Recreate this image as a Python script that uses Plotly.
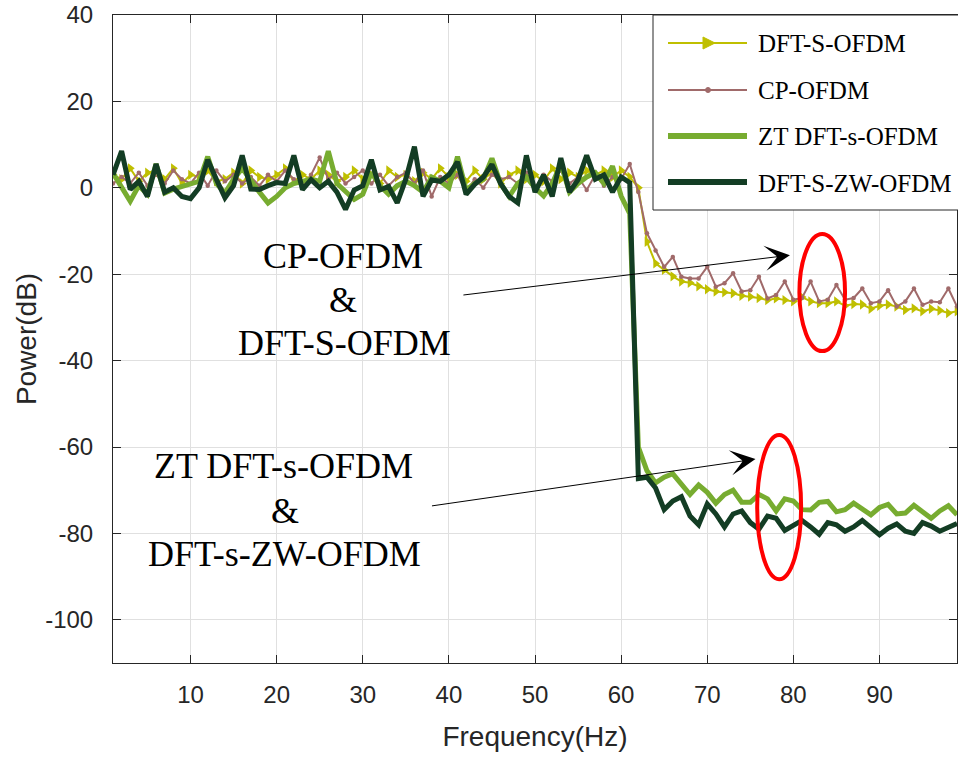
import plotly.graph_objects as go

# ---------------- data ----------------
freq = list(range(1, 100))

dft_s_ofdm = [
    3, 2, 4.5, 1.5, 3.5, 4, 2, 4.5, 1, 3,
    2.5, 4, 1.5, 2, 3.5, 1, 4, 2.5, 2, 3,
    4.5, 1.5, 3, 2, 4, 3, 1.5, 2.5, 4, 2,
    3, 1, 4, 2.5, 3, 1.5, 3.5, 2, 4.5, 2.5,
    3, 1.5, 4, 2, 3.5, 1, 3, 4, 2, 3,
    1.5, 4.5, 2, 3.5, 2.5, 4, 3, 4, 2.5, 4,
    2.5, 0, -12.5, -17.5, -19, -20.5, -21.7, -22, -22.8, -23.5,
    -24, -24.2, -24.4, -25, -25.2, -25.5, -26, -25.6, -26, -26.3,
    -25.3, -26.3, -26.7, -26.7, -26.3, -27.3, -26.9, -27, -28, -27.3,
    -27, -27.5, -28.3, -27.9, -28.6, -28, -28.4, -29, -28.6,
]

cp_ofdm = [
    1, 2.5, 1, 3.5, 0.5, 3, 1, 4, 2, 1,
    3.5, 0.5, 4, 1.5, 3, 1, 2.5, 0.5, 3, 1.5,
    4, 2, 0.5, 3, 7, 2, 3.5, 1, 2.5, 4,
    1, 3, 0.5, 2.5, 3.5, 1, 4, -2, 2.5, 1,
    3, -1, 2, 0, 3, 2, 2.5, 1, 3.5, 0,
    3, 1.5, 4, 1, 2.5, -0.5, 3, 0.5, 2.5, 2,
    5.5, -1, -10.5, -14.5, -18.3, -16, -20.6, -21, -21, -18.3,
    -22.9, -22.1, -19.8, -24, -23.7, -20.6, -25.6, -24.8, -21.7, -25.9,
    -25.5, -21.7, -26.3, -25.9, -22.5, -25.9, -25.5, -23.3, -26.7, -26.3,
    -23.7, -27.5, -26.3, -23.3, -27.1, -26.3, -26.5, -23.3, -27.5,
]

zt_dft_s_ofdm = [
    3.4, 0, -3.1, 0.5, -1.5, 5.5, -1.2, -0.3, 0.3, 0.8,
    1.5, 7.2, 1, -1.2, 2, 4.5, 1.5, -1, -3.5, -2,
    0, 1, 1.5, 2, 1.5, 8.5, 1, -1, -2.7, -1.5,
    3.5, 0.5, -1.5, 0.5, 1.5, 0.5, -1, 2.5, 1.5, 0,
    7.2, -0.5, 1, 2, 6.8, 1, -2, 1, 2.5, 0,
    -1.9, 1, 5.5, -1, 1, 2.5, 3.5, 1, 5, -1.9,
    -6, -60, -65.5, -68.3, -67, -66.2, -68.5, -71, -68.8, -70.5,
    -73, -71, -70, -72.8, -72.8, -71, -72, -74.8, -72, -72.5,
    -74.5, -74.6, -72.8, -72.6, -75, -74.5, -73, -74.2, -75.7, -74,
    -73.3, -75.5, -75.3, -73.5, -75, -76.5, -74.8, -73.6, -75.7,
]

dft_s_zw_ofdm = [
    3, 8.5, -0.4, 1.5, -2, 5.5, -1, 0, -2, -2.5,
    0, 6.5, 2, -2.3, 0.5, 7.5, -0.3, -0.4, 0.5, 1.2,
    1, 7.5, -0.4, 1.9, 0, 1.5, -1, -5, -0.5, 0.5,
    6.5, -0.5, 0.3, -3.5, 2, 9.5, -2, 1.8, 1.5, 3,
    6, -1.5, 0.8, 2.5, 5.4, 1, -2, -3.5, 7.5, -1,
    3, -2, 6.9, -1, 1.9, 7.5, 2, 3, -1, 2.5,
    1.2, -67.3, -67, -69.5, -74.5, -72.5, -71.5, -76, -78, -73.2,
    -75.5, -78.5, -75.5, -74.8, -77.5, -79, -76, -76.5, -79.3, -78,
    -77, -78.5, -80.2, -77.5, -78, -79.5, -78.5, -77, -78.8, -80.3,
    -78.8, -77.8, -79.5, -80, -77.5, -78.3, -79.5, -78.5, -77.7,
]

series_names = ["DFT-S-OFDM", "CP-OFDM", "ZT DFT-s-OFDM", "DFT-S-ZW-OFDM"]
x_ticks = [10, 20, 30, 40, 50, 60, 70, 80, 90]
y_ticks = [-100, -80, -60, -40, -20, 0, 20, 40]
y_tick_text = ["-100", "-80", "-60", "-40", "-20", "0", "20", "40"]

# ---------------- styling ----------------
C_YEL = "#BFBF00"
C_CP = "#A06A6A"
C_ZT = "#77AC30"
C_ZW = "#133D24"
AX = "#262626"
GRID = "#E0E0E0"
SANS = "Liberation Sans, Arial, sans-serif"
SERIF = "Liberation Serif, Times New Roman, serif"

W, H = 958, 759
L, R, T, B = 113, 1, 15, 96
PW, PH = W - L - R, H - T - B


def px(xp):
    return (xp - L) / PW


def py(yp):
    return (H - B - yp) / PH


fig = go.Figure()
fig.add_trace(go.Scatter(x=freq, y=dft_s_ofdm, mode="lines+markers", name=series_names[0],
                         line=dict(color=C_YEL, width=2),
                         marker=dict(symbol="triangle-right", size=9, color=C_YEL)))
fig.add_trace(go.Scatter(x=freq, y=cp_ofdm, mode="lines+markers", name=series_names[1],
                         line=dict(color=C_CP, width=2),
                         marker=dict(symbol="circle", size=4.5, color=C_CP)))
fig.add_trace(go.Scatter(x=freq, y=zt_dft_s_ofdm, mode="lines", name=series_names[2],
                         line=dict(color=C_ZT, width=5)))
fig.add_trace(go.Scatter(x=freq, y=dft_s_zw_ofdm, mode="lines", name=series_names[3],
                         line=dict(color=C_ZW, width=5)))

shapes = []
# red ellipses
shapes.append(dict(type="circle", xref="x", yref="y", x0=80.7, x1=86.0, y0=-37.8, y1=-10.7,
                   line=dict(color="#FF0000", width=4)))
shapes.append(dict(type="circle", xref="x", yref="y", x0=75.8, x1=80.9, y0=-90.6, y1=-57.2,
                   line=dict(color="#FF0000", width=4)))

# manual legend box
shapes.append(dict(type="rect", xref="paper", yref="paper", x0=px(653), x1=px(970),
                   y0=py(210), y1=py(15), fillcolor="white", line=dict(color=AX, width=1),
                   layer="above"))
leg_y = [43, 90, 136, 182]
leg_col = [C_YEL, C_CP, C_ZT, C_ZW]
leg_w = [2, 2, 6, 6]
for yy, cc, ww in zip(leg_y, leg_col, leg_w):
    shapes.append(dict(type="line", xref="paper", yref="paper", x0=px(668), x1=px(747),
                       y0=py(yy), y1=py(yy), line=dict(color=cc, width=ww), layer="above"))
# legend markers
shapes.append(dict(type="path", xref="paper", yref="paper", xsizemode="pixel", ysizemode="pixel",
                   xanchor=px(708), yanchor=py(leg_y[0]), path="M-5,-6 L7,0 L-5,6 Z",
                   fillcolor=C_YEL, line=dict(color=C_YEL, width=1), layer="above"))
shapes.append(dict(type="circle", xref="paper", yref="paper", xsizemode="pixel", ysizemode="pixel",
                   xanchor=px(708), yanchor=py(leg_y[1]), x0=-2.5, x1=2.5, y0=-2.5, y1=2.5,
                   fillcolor=C_CP, line=dict(color=C_CP, width=1), layer="above"))

annotations = []
for yy, name in zip(leg_y, series_names):
    annotations.append(dict(xref="paper", yref="paper", x=px(756), y=py(yy + 1), text=name,
                            showarrow=False, xanchor="left", yanchor="middle",
                            font=dict(family=SERIF, size=25, color="black")))

# in-plot text labels
for (xc, yc, txt) in [(343, 255, "CP-OFDM"), (343, 299, "&"), (344, 342, "DFT-S-OFDM"),
                      (283, 465, "ZT DFT-s-OFDM"), (285, 510, "&"), (284, 553, "DFT-s-ZW-OFDM")]:
    annotations.append(dict(xref="paper", yref="paper", x=px(xc), y=py(yc + 1), text=txt,
                            showarrow=False, xanchor="center", yanchor="middle",
                            font=dict(family=SERIF, size=36, color="black")))

# arrows
annotations.append(dict(x=79.6, y=-15.6, xref="x", yref="y", ax=-328, ay=40, text="",
                        showarrow=True, arrowhead=3, arrowsize=4.2, arrowwidth=1,
                        arrowcolor="black"))
annotations.append(dict(x=75.6, y=-62.8, xref="x", yref="y", ax=-325, ay=47, text="",
                        showarrow=True, arrowhead=3, arrowsize=4.2, arrowwidth=1,
                        arrowcolor="black"))

fig.update_layout(
    width=W, height=H,
    margin=dict(l=L, r=R, t=T, b=B, autoexpand=False),
    paper_bgcolor="white", plot_bgcolor="white",
    showlegend=False,
    shapes=shapes, annotations=annotations,
    font=dict(family=SANS, color=AX),
)
fig.update_xaxes(range=[1, 99], tickvals=x_ticks, ticks="inside", ticklen=8, tickcolor=AX,
                 showline=True, linecolor=AX, linewidth=1, mirror="ticks",
                 showgrid=True, gridcolor=GRID, gridwidth=1, zeroline=False,
                 tickfont=dict(family=SANS, size=24, color=AX), ticklabelstandoff=10,
                 title=dict(text="Frequency(Hz)", font=dict(family=SANS, size=28, color=AX),
                            standoff=19),
                 automargin=False)
fig.update_yaxes(range=[-110, 40], tickvals=y_ticks, ticktext=y_tick_text,
                 ticks="inside", ticklen=8, tickcolor=AX,
                 showline=True, linecolor=AX, linewidth=1, mirror="ticks",
                 showgrid=True, gridcolor=GRID, gridwidth=1, zeroline=False,
                 tickfont=dict(family=SANS, size=24, color=AX), ticklabelstandoff=14,
                 title=dict(text="Power(dB)", font=dict(family=SANS, size=28, color=AX),
                            standoff=0),
                 automargin=False)

fig.write_html("out.html", config={"displayModeBar": False},
               post_script="document.body.style.margin='0';")
